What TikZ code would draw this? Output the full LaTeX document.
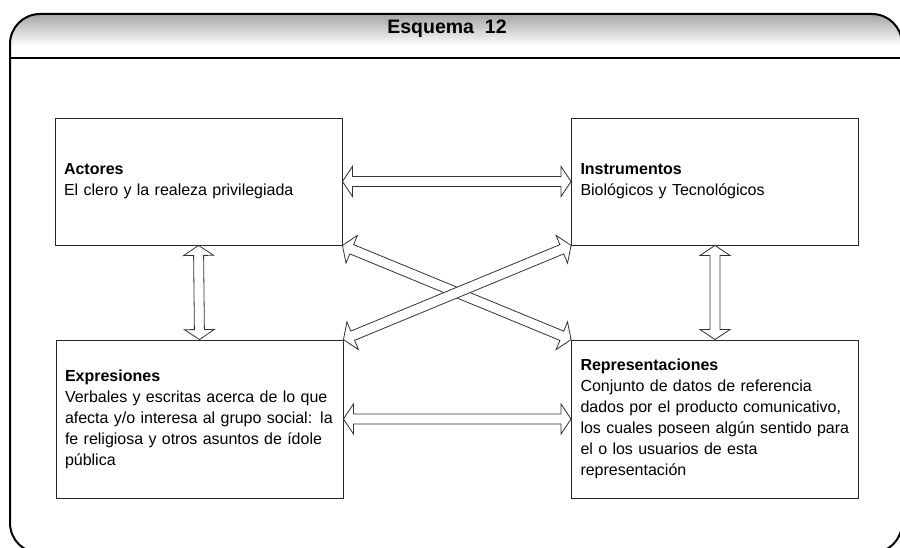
\documentclass[tikz,border=0pt]{standalone}
\usepackage{fontspec}
\setmainfont{Liberation Sans}
\usetikzlibrary{calc,positioning}

% hollow two-headed block arrow between two anchors
\newcommand{\flechadoble}[2]{%
  \coordinate (fa) at ($(#1)!10pt!(#2)$);
  \coordinate (fb) at ($(#2)!10pt!(#1)$);
  \draw[flecha] (#1) -- ($(fa)!15pt!90:(#2)$) -- ($(fa)!5pt!90:(#2)$)
    -- ($(fb)!5pt!-90:(#1)$) -- ($(fb)!15pt!-90:(#1)$) -- (#2)
    -- ($(fb)!15pt!90:(#1)$) -- ($(fb)!5pt!90:(#1)$)
    -- ($(fa)!5pt!-90:(#2)$) -- ($(fa)!15pt!-90:(#2)$) -- cycle;
}

\begin{document}
\begin{tikzpicture}[x=1pt,y=-1pt,
  caja/.style={draw=black!85, line width=0.9pt, align=left, inner xsep=9pt,
    text width=269pt, font=\fontsize{16}{21}\selectfont, text=black},
  flecha/.style={draw=black!80, line width=0.8pt, fill=white, line join=miter}]
\useasboundingbox (0,0) rectangle (900,548);

% marco
\begin{scope}
\clip[rounded corners=30pt] (10,14) rectangle (902,553);
\shade[top color=black!35, bottom color=white] (10,14) rectangle (902,46);
\end{scope}
\draw[line width=2pt, rounded corners=30pt] (10,14) rectangle (902,553);
\draw[line width=1.4pt] (10,58) -- (902,58);
\node[font=\bfseries\fontsize{19.5}{22}\selectfont] (titulo) at (447,29) {Esquema~ 12};

\node[caja, minimum height=127pt] (act) at (198.5,181.5)
  {\textbf{Actores}\\ El clero y la realeza privilegiada};
\node[caja, minimum height=127pt] (ins) at (715,181.5)
  {\textbf{Instrumentos}\\ Biológicos y Tecnológicos};
\node[caja, minimum height=158pt] (exp) at (199.5,419)
  {\textbf{Expresiones}\\ Verbales y escritas acerca de lo que\\ afecta y/o interesa al grupo social: la\\ fe religiosa y otros asuntos de ídole\\ pública};
\node[caja, minimum height=158pt] (rep) at (715,419)
  {\textbf{Representaciones}\\ Conjunto de datos de referencia\\ dados por el producto comunicativo,\\ los cuales poseen algún sentido para\\ el o los usuarios de esta\\ representación};

\flechadoble{act.east}{ins.west}
\flechadoble{exp.east}{rep.west}
\flechadoble{act.south}{exp.north}
\flechadoble{ins.south}{rep.north}
\flechadoble{act.south east}{rep.north west}
\flechadoble{exp.north east}{ins.south west}
\end{tikzpicture}
\end{document}
